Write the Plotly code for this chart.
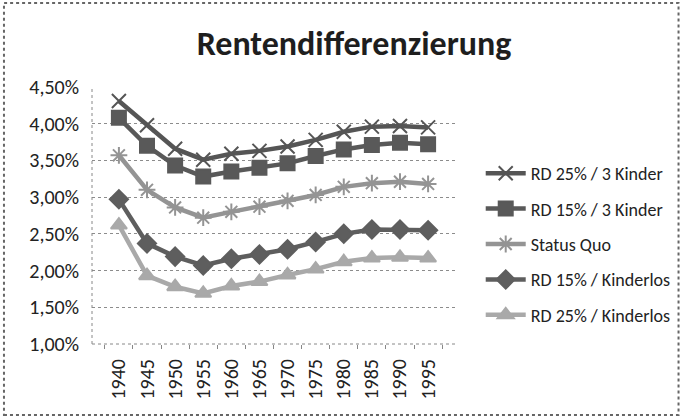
import plotly.graph_objects as go

years = ["1940", "1945", "1950", "1955", "1960", "1965", "1970", "1975", "1980", "1985", "1990", "1995"]

rd25_3k = [4.31, 3.98, 3.66, 3.51, 3.59, 3.63, 3.69, 3.78, 3.89, 3.96, 3.97, 3.95]
rd15_3k = [4.08, 3.70, 3.43, 3.28, 3.35, 3.40, 3.46, 3.56, 3.65, 3.71, 3.74, 3.72]
status_quo = [3.57, 3.10, 2.86, 2.72, 2.80, 2.87, 2.95, 3.03, 3.14, 3.19, 3.21, 3.18]
rd15_kl = [2.97, 2.37, 2.19, 2.07, 2.16, 2.22, 2.29, 2.39, 2.50, 2.56, 2.56, 2.55]
rd25_kl = [2.62, 1.93, 1.78, 1.69, 1.79, 1.85, 1.94, 2.02, 2.12, 2.17, 2.18, 2.17]

series = [
    ("RD 25% / 3 Kinder", rd25_3k, "#555555", "x-thin-open", 14),
    ("RD 15% / 3 Kinder", rd15_3k, "#595959", "square", 14),
    ("Status Quo", status_quo, "#949494", "asterisk-open", 14),
    ("RD 15% / Kinderlos", rd15_kl, "#5e5e5e", "diamond", 14),
    ("RD 25% / Kinderlos", rd25_kl, "#a9a9a9", "triangle-up", 14),
]

fig = go.Figure()
for i, (name, vals, color, sym, size) in enumerate(series):
    fig.add_trace(go.Scatter(
        x=years, y=[v / 100 for v in vals], name=name, mode="lines+markers",
        line=dict(color=color, width=4.5),
        marker=dict(symbol=sym, size=size, color=color,
                    line=dict(color=color, width=2)),
        legendgroup=f"g{i}",
    ))

FONT = "Carlito, Lato, 'Open Sans', sans-serif"
W, H = 688, 418
L, R, T, B = 92, 229, 87, 74
pw, ph = W - L - R, H - T - B

fig.update_layout(
    width=W, height=H,
    margin=dict(l=L, r=R, t=T, b=B),
    paper_bgcolor="white", plot_bgcolor="white",
    font=dict(family=FONT, color="#222222", size=19),
    title=dict(text="<b>Rentendifferenzierung</b>", x=354 / W, xanchor="center",
               y=1 - 43 / H, yanchor="middle", font=dict(size=34, color="#1e1e1e")),
    legend=dict(x=1 + 26 / pw, xanchor="left", y=1 - (155 - T) / ph, yanchor="top",
                font=dict(size=18, color="#222222"), tracegroupgap=9,
                itemwidth=40, bgcolor="rgba(0,0,0,0)"),
    showlegend=True,
    separators=",.",
)

fig.update_yaxes(
    range=[0.01, 0.045], dtick=0.005, tickformat=".2%",
    showgrid=True, gridcolor="#8c8c8c", griddash="dot", gridwidth=1,
    zeroline=False, showline=False, ticks="", ticklabelstandoff=12,
    tickfont=dict(size=20, color="#222222"),
)
fig.update_xaxes(
    type="category", tickson="boundaries", ticks="outside", ticklen=4,
    tickcolor="#888888", tickangle=-90, showgrid=False, showline=False,
    ticklabelstandoff=10,
    tickfont=dict(size=20, color="#222222"),
)

# dotted axis lines
fig.add_shape(type="line", xref="paper", yref="paper", x0=0, x1=1, y0=0, y1=0,
              line=dict(color="#888888", width=1, dash="dot"))
fig.add_shape(type="line", xref="paper", yref="paper", x0=0, x1=0, y0=0, y1=1,
              line=dict(color="#888888", width=1, dash="dot"))
# outer frame
fig.add_shape(type="rect", xref="paper", yref="paper",
              x0=(3 - L) / pw, x1=(W - 3 - L) / pw,
              y0=-(B - 3) / ph, y1=1 + (T - 3) / ph,
              line=dict(color="#666666", width=2, dash="dot"))

fig.write_html("out.html")
